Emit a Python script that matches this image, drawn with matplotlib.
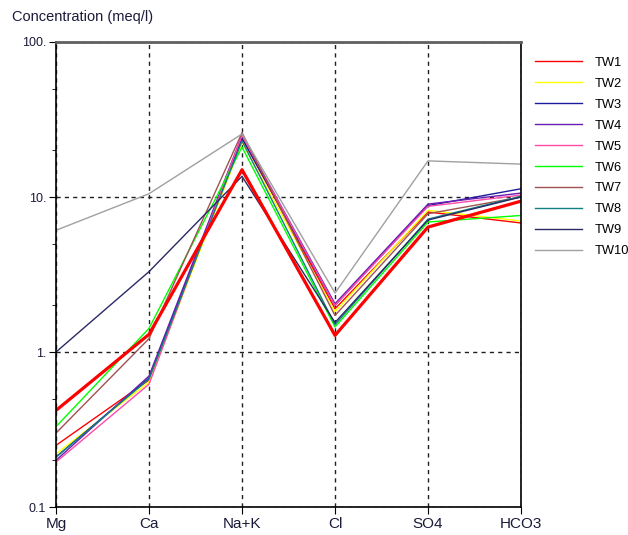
import numpy as np
import matplotlib.pyplot as plt
from matplotlib.ticker import FixedLocator, NullFormatter

plt.rcParams['font.family'] = ['Liberation Sans', 'DejaVu Sans']

ions = ['Mg', 'Ca', 'Na+K', 'Cl', 'SO4', 'HCO3']
names = ['TW1', 'TW2', 'TW3', 'TW4', 'TW5', 'TW6', 'TW7', 'TW8', 'TW9', 'TW10']
colors = ['#ff0000', '#ffff00', '#1c1c9c', '#6a1cb4', '#ff4aa8',
          '#00ff00', '#a05252', '#108080', '#2a2a66', '#a0a0a0']

tw1 = [0.25, 0.66, 24.0, 1.90, 8.0, 6.8]
tw2 = [0.22, 0.64, 22.5, 1.82, 8.2, 7.0]
tw3 = [0.21, 0.68, 24.0, 2.00, 8.8, 11.3]
tw4 = [0.20, 0.70, 25.0, 2.05, 9.0, 10.6]
tw5 = [0.195, 0.62, 25.0, 2.00, 8.7, 10.3]
tw6 = [0.33, 1.42, 21.0, 1.45, 6.9, 7.6]
tw7 = [0.30, 1.22, 26.0, 1.72, 7.8, 10.0]
tw8 = [0.21, 0.67, 23.0, 1.50, 7.2, 10.1]
tw9 = [1.00, 3.30, 13.6, 1.55, 7.1, 10.0]
tw10 = [6.1, 10.5, 25.5, 2.40, 17.1, 16.3]
selected = [0.42, 1.30, 15.0, 1.28, 6.4, 9.4]  # highlighted sample (thick red)

series = [tw1, tw2, tw3, tw4, tw5, tw6, tw7, tw8, tw9, tw10]

fig = plt.figure(figsize=(6.28, 5.35), dpi=100)
ax = fig.add_axes([0.0892, 0.0523, 0.7404, 0.8692])

x = np.arange(len(ions))
for vals, name, c in zip(series, names, colors):
    ax.plot(x, vals, color=c, linewidth=1.0, label=name)
ax.plot(x, selected, color='#ff0000', linewidth=2.3)

ax.set_yscale('log')
ax.set_ylim(0.1, 100)
ax.set_xlim(0, len(ions) - 1)
ax.set_xticks(x)
ax.set_xticklabels(ions, fontsize=11, color='#1a1a3a')
ax.yaxis.set_major_locator(FixedLocator([0.1, 1, 10, 100]))
ax.set_yticklabels(['0.1', '1.', '10.', '100.'], fontsize=9, color='#1a1a3a')
ax.yaxis.set_minor_locator(FixedLocator([0.2, 0.5, 2, 5, 20, 50]))
ax.yaxis.set_minor_formatter(NullFormatter())
ax.tick_params(axis='y', which='major', length=5, direction='out', pad=2)
ax.tick_params(axis='y', which='minor', length=3, direction='out')
ax.tick_params(axis='x', length=5, direction='out', pad=2)

ax.grid(True, which='major', color='#202020', linestyle=(0, (3, 3)), linewidth=1.0)
ax.set_axisbelow(True)
ax.spines['top'].set_color('#606060')
ax.spines['top'].set_linewidth(2.0)
ax.spines['left'].set_linewidth(1.2)
ax.spines['bottom'].set_linewidth(1.2)
ax.spines['right'].set_linewidth(1.2)

fig.text(0.019, 0.968, 'Concentration (meq/l)', fontsize=10.5, color='#1a1a3a', va='center')

fig.legend(loc='upper left', bbox_to_anchor=(0.852, 0.894), frameon=False,
           borderaxespad=0, borderpad=0,
           handlelength=3.6, handletextpad=1.0, labelspacing=0.69, fontsize=9.3)

plt.savefig('out.png', dpi=100)
